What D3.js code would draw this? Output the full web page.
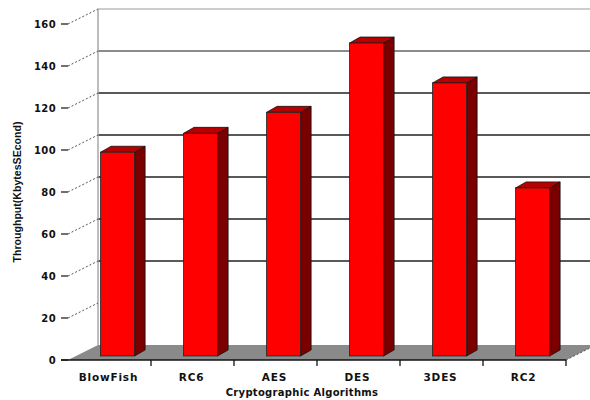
<!DOCTYPE html>
<html>
<head>
<meta charset="utf-8">
<script src="https://cdn.jsdelivr.net/npm/d3@7"></script>
<style>
  html, body { margin: 0; padding: 0; background: #fff; }
  svg { display: block; }
</style>
</head>
<body>
<svg id="chart" width="590" height="400"></svg>
<script>
const categories = ["BlowFish", "RC6", "AES", "DES", "3DES", "RC2"];
const throughput = [97, 106, 116, 149, 130, 80];
const yTicks = [0, 20, 40, 60, 80, 100, 120, 140, 160];
const gridValues = [40, 60, 80, 100, 120, 140, 160];
const yTitle = "Throughput(KbytesSEcond)";
const xTitle = "Cryptographic Algorithms";

const svg = d3.select("#chart");
const W = 590, H = 400;

// 3D projection setup
const DX = 30, DY = -15;          // depth offset of back wall
const x = d3.scaleBand().domain(categories).range([68, 566]).paddingInner(0).paddingOuter(0);
const y = d3.scaleLinear().domain([0, 160]).range([360, 24]);
const proj = (px, v, d) => [px + DX * d, y(v) + DY * d];

// Floor
const fl = [proj(68, 0, 0), proj(68, 0, 1), proj(566, 0, 1), proj(566, 0, 0)];
svg.append("polygon").attr("points", fl.map(p => p.join(",")).join(" "))
  .attr("fill", "#8a8a8a");

// Back wall gridlines
const grid = svg.append("g");
gridValues.forEach(v => {
  const [x0, yy] = proj(68, v, 1);
  grid.append("line").attr("x1", x0).attr("x2", W + 10).attr("y1", yy).attr("y2", yy)
    .attr("stroke", v === 160 ? "#bdbdbd" : (v === 140 ? "#666" : "#222"))
    .attr("stroke-width", v === 160 ? 1.5 : 1.3);
});
// Back wall left edge
{
  const [bx, by0] = proj(68, 0, 1);
  const [, by1] = proj(68, 160, 1);
  grid.append("line").attr("x1", bx).attr("x2", bx).attr("y1", by1).attr("y2", by0)
    .attr("stroke", "#9a9a9a").attr("stroke-width", 1.3);
}

// Y axis ticks, labels, dashed depth lines
const yax = svg.append("g");
yTicks.forEach(v => {
  const yy = y(v);
  yax.append("text").attr("x", 56).attr("y", yy).attr("dy", "0.36em")
    .attr("text-anchor", "end")
    .attr("font-family", "DejaVu Sans, sans-serif").attr("font-weight", "bold")
    .attr("font-size", 10).attr("letter-spacing", 0.4).attr("fill", "#111")
    .text(v);
  yax.append("line").attr("x1", 61).attr("x2", 68).attr("y1", yy).attr("y2", yy)
    .attr("stroke", "#111").attr("stroke-width", 1.2);
  if (v > 0) {
    const [bx, by] = proj(68, v, 1);
    yax.append("line").attr("x1", 68).attr("y1", yy).attr("x2", bx).attr("y2", by)
      .attr("stroke", "#555").attr("stroke-width", 1).attr("stroke-dasharray", "2,2");
  }
});

// X axis line and ticks
svg.append("line").attr("x1", 61).attr("x2", 566).attr("y1", y(0)).attr("y2", y(0))
  .attr("stroke", "#111").attr("stroke-width", 1.3);
{
  const [bx, by] = proj(566, 0, 1);
  svg.append("line").attr("x1", 566).attr("y1", y(0)).attr("x2", bx).attr("y2", by)
    .attr("stroke", "#555").attr("stroke-width", 1).attr("stroke-dasharray", "2,2");
}
categories.forEach((c, i) => {
  const tx = x(c) + x.bandwidth();
  svg.append("line").attr("x1", tx).attr("x2", tx).attr("y1", y(0)).attr("y2", y(0) + 6)
    .attr("stroke", "#111").attr("stroke-width", 1.3);
});

// Bars
const barD = 0.27;         // depth position of bar front face
const bw = x.bandwidth() * 0.41;
const sideDX = 10.5, sideDY = -6;
const bars = svg.append("g");
categories.forEach((c, i) => {
  const v = throughput[i];
  const cx = x(c) + x.bandwidth() / 2;
  const [fx0, fyTop] = proj(cx - bw / 2, v, barD);
  const [fx1, fyBot] = proj(cx + bw / 2, 0, barD);
  // side
  bars.append("polygon")
    .attr("points", [[fx1, fyTop], [fx1 + sideDX, fyTop + sideDY], [fx1 + sideDX, fyBot + sideDY], [fx1, fyBot]].map(p => p.join(",")).join(" "))
    .attr("fill", "#7a0000").attr("stroke", "#111").attr("stroke-width", 0.8);
  // top
  bars.append("polygon")
    .attr("points", [[fx0, fyTop], [fx0 + sideDX, fyTop + sideDY], [fx1 + sideDX, fyTop + sideDY], [fx1, fyTop]].map(p => p.join(",")).join(" "))
    .attr("fill", "#b80000").attr("stroke", "#111").attr("stroke-width", 0.8);
  // front
  bars.append("rect").attr("x", fx0).attr("y", fyTop).attr("width", fx1 - fx0).attr("height", fyBot - fyTop)
    .attr("fill", "#ff0000").attr("stroke", "#222").attr("stroke-width", 0.8);
});

// Category labels
categories.forEach(c => {
  svg.append("text").attr("x", x(c) + x.bandwidth() / 2 - 1).attr("y", 381)
    .attr("text-anchor", "middle")
    .attr("font-family", "DejaVu Sans, sans-serif").attr("font-weight", "bold")
    .attr("font-size", 10.5).attr("letter-spacing", 0.8).attr("fill", "#111")
    .text(c);
});

// Axis titles
svg.append("text").attr("x", 302).attr("y", 396).attr("text-anchor", "middle")
  .attr("font-family", "DejaVu Sans, sans-serif").attr("font-weight", "bold")
  .attr("font-size", 10).attr("letter-spacing", 0.3).attr("fill", "#111")
  .text(xTitle);

svg.append("text").attr("transform", "translate(21,192) rotate(-90)")
  .attr("text-anchor", "middle")
  .attr("font-family", "Liberation Sans Narrow, Liberation Sans, sans-serif").attr("font-weight", "bold")
  .attr("font-size", 11).attr("fill", "#111")
  .attr("textLength", 141).attr("lengthAdjust", "spacingAndGlyphs")
  .text(yTitle);
</script>
</body>
</html>
